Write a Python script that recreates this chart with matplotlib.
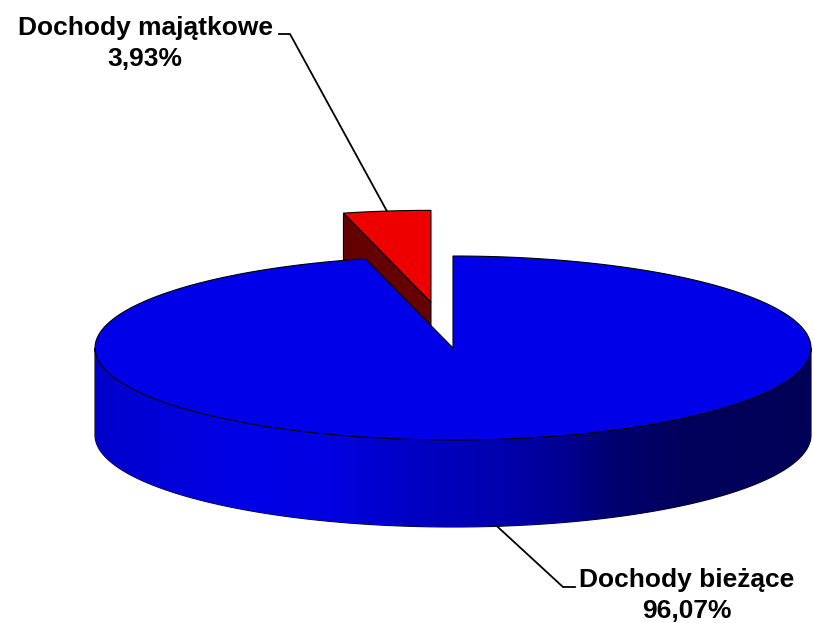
import numpy as np
import matplotlib.pyplot as plt
from matplotlib.patches import Polygon
from matplotlib.colors import LinearSegmentedColormap

# slice data
labels = ['Dochody majątkowe', 'Dochody bieżące']
values = [3.93, 96.07]
pct_labels = ['3,93%', '96,07%']
top_colors = ['#EE0000', '#0000E8']
face_colors = ['#640000', '#0000C0']
explode = [0.5, 0.0]

W, H = 814, 623
cx, cy = 453, 348      # centre of the top ellipse (pixels)
a, b = 358, 92         # ellipse semi axes
depth = 87             # thickness of the pie

# shading of the side wall, left -> right
side_cmap = LinearSegmentedColormap.from_list('side', [
    (0.00, (0, 0, 0.80)),
    (0.22, (0, 0, 0.91)),
    (0.33, (0, 0, 0.88)),
    (0.45, (0, 0, 0.76)),
    (0.57, (0, 0, 0.68)),
    (0.65, (0, 0, 0.58)),
    (0.73, (0, 0, 0.43)),
    (0.82, (0, 0, 0.36)),
    (1.00, (0, 0, 0.34)),
])

plt.rcParams['font.family'] = ['Liberation Sans', 'DejaVu Sans']

fig = plt.figure(figsize=(W / 100, H / 100), dpi=100)
ax = fig.add_axes([0, 0, 1, 1])


def arc(t0, t1, ox, oy, dz=0, n=200):
    t = np.radians(np.linspace(t0, t1, n))
    return np.column_stack([ox + a * np.cos(t), oy - b * np.sin(t) + dz])


total = sum(values)
angles = [90]
for v in values:
    angles.append(angles[-1] + v / total * 360)

lw = 0.8
anchors = []
for i in range(len(values)):
    t0, t1 = angles[i], angles[i + 1]
    mid = (t0 + t1) / 2
    ox = cx + explode[i] * a * np.cos(np.radians(mid))
    oy = cy - explode[i] * b * np.sin(np.radians(mid))

    # front part of the outer wall (180..360 deg)
    lo, hi = max(t0, 180), min(t1, 360)
    if hi > lo:
        top = arc(lo, hi, ox, oy)
        bot = arc(hi, lo, ox, oy, depth)
        side = Polygon(np.vstack([top, bot]), closed=True, facecolor='none',
                       edgecolor='black', lw=lw, zorder=2 * i + 1)
        ax.add_patch(side)
        grad = np.linspace(0, 1, 400).reshape(1, -1)
        im = ax.imshow(grad, cmap=side_cmap, aspect='auto', interpolation='bilinear',
                       extent=(ox - a, ox + a, oy + b + depth, oy - b), zorder=2 * i + 1)
        im.set_clip_path(side)

    # cut faces that look towards the viewer
    for t, visible in ((t0, np.cos(np.radians(t0)) > 1e-9),
                       (t1, np.cos(np.radians(t1)) < -1e-9)):
        if visible:
            p = arc(t, t, ox, oy, n=1)[0]
            face = [(ox, oy), p, (p[0], p[1] + depth), (ox, oy + depth)]
            ax.add_patch(Polygon(face, closed=True, facecolor=face_colors[i],
                                 edgecolor='black', lw=lw, zorder=2 * i + 1))

    # top face
    top_face = np.vstack([[ox, oy], arc(t0, t1, ox, oy), [ox, oy]])
    ax.add_patch(Polygon(top_face, closed=True, facecolor=top_colors[i],
                         edgecolor='black', lw=lw, zorder=2 * i + 2))

    # leader line anchor: outer edge at mid angle
    p = arc(mid, mid, ox, oy, n=1)[0]
    if np.sin(np.radians(mid)) < 0:
        p = (p[0], p[1] + depth)
    anchors.append(p)

# labels with leader lines
label_pos = [(145, 35), (687, 587)]
elbows = [[(290, 34), (279, 34)], [(563, 587), (575, 587)]]
for i in range(len(values)):
    pts = np.array([anchors[i]] + elbows[i])
    ax.plot(pts[:, 0], pts[:, 1], color='black', lw=1.3, zorder=10)
    x, y = label_pos[i]
    ax.text(x, y, labels[i], ha='center', va='baseline', fontsize=19,
            fontweight='bold', zorder=11)
    ax.text(x, y + 31, pct_labels[i], ha='center', va='baseline', fontsize=19,
            fontweight='bold', zorder=11)

ax.set_xlim(0, W)
ax.set_ylim(H, 0)
ax.axis('off')

fig.savefig('out.png', dpi=100)
